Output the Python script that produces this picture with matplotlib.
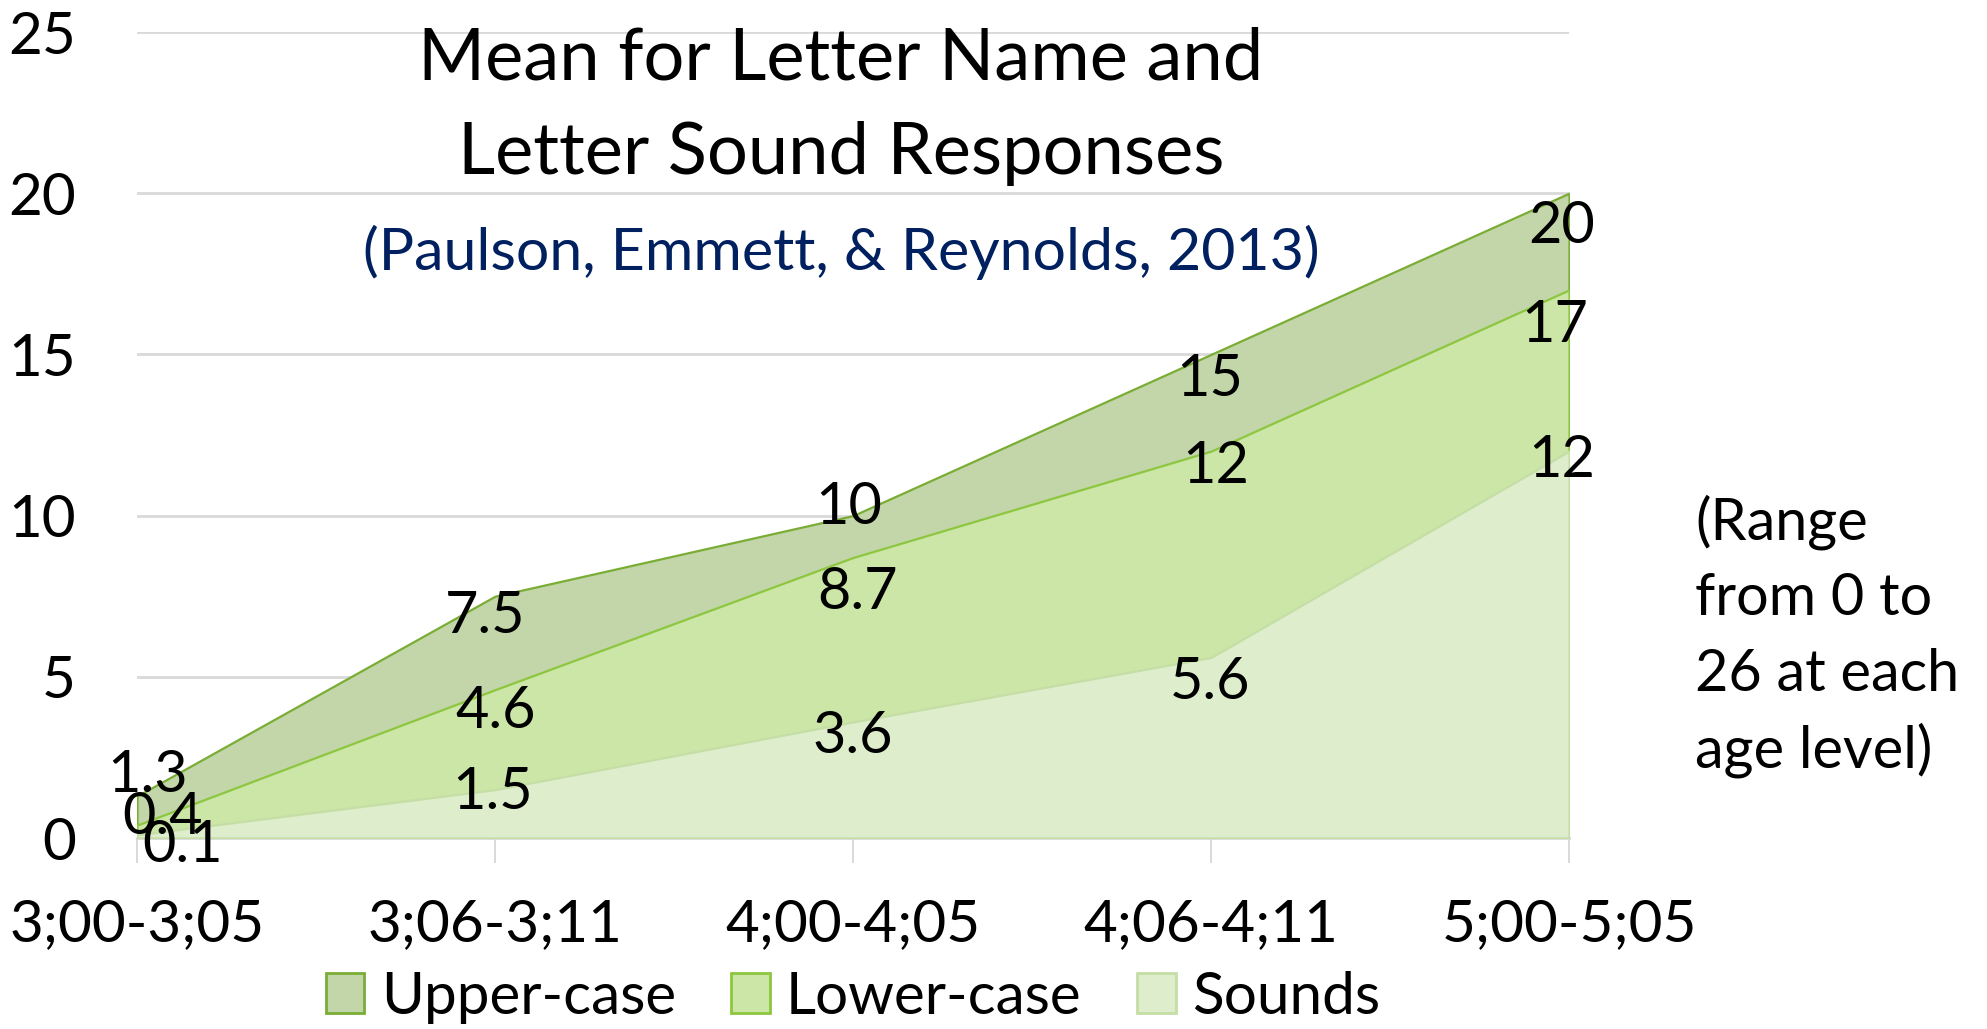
import matplotlib
matplotlib.use("Agg")
import matplotlib.pyplot as plt
from matplotlib.patches import Patch

plt.rcParams['font.family'] = ['Lato', 'DejaVu Sans']

# ---- data ----
categories = ["3;00-3;05", "3;06-3;11", "4;00-4;05", "4;06-4;11", "5;00-5;05"]
upper_case = [1.3, 7.5, 10, 15, 20]
lower_case = [0.4, 4.6, 8.7, 12, 17]
sounds = [0.1, 1.5, 3.6, 5.6, 12]
series_names = ["Upper-case", "Lower-case", "Sounds"]
y_ticks = [0, 5, 10, 15, 20, 25]

# ---- styles ----
fills = ["#C3D6A9", "#CBE6A7", "#DEEDCB"]
edges = ["#7AAD35", "#8DC63F", "#C4DEA6"]
# label offsets in pixels (dx right, dy down) relative to each point (visual center of text)
label_offsets = [
    [(11, -25), (-10, 16), (-4, -13), (-1, 21), (-7, 29)],
    [(25, -12), (1, 17), (4, 30), (5, 11), (-14, 31)],
    [(46, 6), (-2, -2), (0, 10), (-1, 21), (-7, 5)],
]
FS = 41.5
TFS = 42
CAP_HALF = 21
grid_c = "#D9D9D9"

W, H = 1987, 1029
fig = plt.figure(figsize=(W / 100, H / 100), dpi=100)
ax = fig.add_axes([137 / W, 1 - 838 / H, (1569 - 137) / W, (838 - 32) / H])

x = list(range(len(categories)))
all_series = [upper_case, lower_case, sounds]
for i, (vals, name) in enumerate(zip(all_series, series_names)):
    ax.fill_between(x, 0, vals, facecolor=fills[i], edgecolor=edges[i],
                    linewidth=1.6, zorder=2 + i, label=name)

for i, vals in enumerate(all_series):
    for j, v in enumerate(vals):
        dx, dy = label_offsets[i][j]
        ax.annotate(f"{v:g}", (x[j], v), xytext=(dx, -(dy + CAP_HALF)),
                    textcoords="offset pixels", ha="center", va="baseline",
                    fontsize=FS, color="black", zorder=10, annotation_clip=False)

ax.set_xlim(0, len(categories) - 1)
ax.set_ylim(0, 25)
ax.set_yticks(y_ticks)
ax.set_xticks(x)
ax.set_xticklabels(categories)
ax.yaxis.grid(True, color=grid_c, linewidth=2, zorder=0)
ax.set_axisbelow(True)
for s in ["left", "right", "top"]:
    ax.spines[s].set_visible(False)
ax.spines["bottom"].set_color(grid_c)
ax.spines["bottom"].set_linewidth(2)
ax.spines["bottom"].set_zorder(1)
ax.tick_params(axis="y", length=0, pad=44, labelsize=TFS)
ax.tick_params(axis="x", length=18, width=1.4, color=grid_c, pad=25, labelsize=TFS)

# titles
cx = 841 / W
fig.text(cx, 1 - 80 / H, "Mean for Letter Name and", ha="center", va="baseline",
         fontsize=52, color="black")
fig.text(cx, 1 - 174 / H, "Letter Sound Responses", ha="center", va="baseline",
         fontsize=52, color="black")
fig.text(cx, 1 - 270 / H, "(Paulson, Emmett, & Reynolds, 2013)", ha="center",
         va="baseline", fontsize=42.5, color="#002060")

range_lines = ["(Range", "from 0 to", "26 at each", "age level)"]
for k, t in enumerate(range_lines):
    fig.text(1695 / W, 1 - (539 + 76 * k) / H, t, ha="left", va="baseline",
             fontsize=41.5, color="black")

handles = [Patch(facecolor=fills[i], edgecolor=edges[i], linewidth=2, label=series_names[i])
           for i in range(3)]
fig.legend(handles=handles, loc="center", bbox_to_anchor=(853 / W, 1 - 997 / H),
           ncol=3, frameon=False, fontsize=TFS, handlelength=0.66, handleheight=0.68,
           handletextpad=0.28, columnspacing=0.95, borderaxespad=0, borderpad=0)

fig.savefig("out.png", dpi=100, facecolor="white")
